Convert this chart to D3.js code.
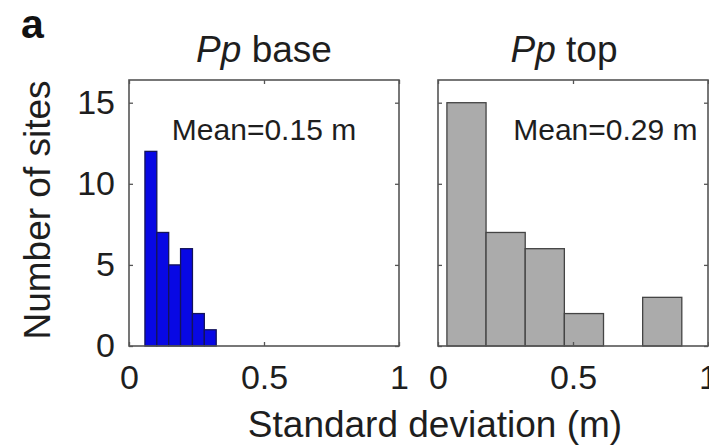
<!DOCTYPE html>
<html>
<head>
<meta charset="utf-8">
<script src="https://cdn.jsdelivr.net/npm/d3@7"></script>
<style>
  body { margin: 0; background: #fff; }
  svg { display: block; font-family: "Liberation Sans", Arial, sans-serif; }
</style>
</head>
<body>
<div id="chart"></div>
<script>
// histogram bin edges (m) and counts
const baseEdges = [0.059, 0.103, 0.147, 0.191, 0.235, 0.279, 0.323];
const baseCounts = [12, 7, 5, 6, 2, 1];
const topEdges = [0.033, 0.178, 0.323, 0.468, 0.613, 0.758, 0.903];
const topCounts = [15, 7, 6, 2, 0, 3];
const xTicks = [0, 0.5, 1];
const xTickLabels = ["0", "0.5", "1"];
const yTicks = [0, 5, 10, 15];
const titles = ["base", "top"];
const means = ["Mean=0.15 m", "Mean=0.29 m"];

const width = 709, height = 447;
const svg = d3.select("#chart").append("svg")
  .attr("width", width)
  .attr("height", height);

const plotTop = 80, plotBottom = 346;
const y = d3.scaleLinear().domain([0, 16.4]).range([plotBottom, plotTop]);

const panels = [
  { left: 129, edges: baseEdges, counts: baseCounts, fill: "#0808e4", stroke: "#14145a",
    title: titles[0], titleX: 264, mean: means[0], meanX: 0.5, yLabels: true },
  { left: 438, edges: topEdges, counts: topCounts, fill: "#ababab", stroke: "#444",
    title: titles[1], titleX: 564, mean: means[1], meanX: 0.62, yLabels: false }
];

const boxColor = "#555";
const textColor = "#1e1e1e";

panels.forEach((p) => {
  const x = d3.scaleLinear().domain([0, 1]).range([p.left, p.left + 270]);
  const g = svg.append("g");

  const bins = p.counts.map((c, i) => ({ x0: p.edges[i], x1: p.edges[i + 1], n: c }))
    .filter((d) => d.n > 0);

  g.append("g")
    .selectAll("rect")
    .data(bins)
    .join("rect")
    .attr("x", (d) => x(d.x0))
    .attr("y", (d) => y(d.n))
    .attr("width", (d) => x(d.x1) - x(d.x0))
    .attr("height", (d) => y(0) - y(d.n))
    .attr("fill", p.fill)
    .attr("stroke", p.stroke)
    .attr("stroke-width", 1.3);

  // bottom axis with labels
  const xb = g.append("g")
    .attr("transform", `translate(0,${plotBottom})`)
    .call(d3.axisBottom(x).tickValues(xTicks).tickFormat((d, i) => xTickLabels[i])
      .tickSizeInner(-4).tickSizeOuter(0).tickPadding(19));
  // top axis, ticks only
  const xt = g.append("g")
    .attr("transform", `translate(0,${plotTop})`)
    .call(d3.axisTop(x).tickValues(xTicks).tickFormat("")
      .tickSizeInner(-4).tickSizeOuter(0));
  // left axis
  const yl = g.append("g")
    .attr("transform", `translate(${p.left},0)`)
    .call(d3.axisLeft(y).tickValues(yTicks).tickFormat(p.yLabels ? d3.format("d") : "")
      .tickSizeInner(-4).tickSizeOuter(0).tickPadding(14));
  // right axis
  const yr = g.append("g")
    .attr("transform", `translate(${p.left + 270},0)`)
    .call(d3.axisRight(y).tickValues(yTicks).tickFormat("")
      .tickSizeInner(-4).tickSizeOuter(0));

  [xb, xt, yl, yr].forEach((a) => {
    a.select(".domain").remove();
    a.selectAll(".tick line").attr("stroke", boxColor).attr("stroke-width", 1.3);
    a.selectAll(".tick text")
      .attr("fill", textColor)
      .style("font-size", "34px")
      .style("font-family", "'Liberation Sans', Arial, sans-serif");
  });

  g.append("rect")
    .attr("x", x(0))
    .attr("y", plotTop)
    .attr("width", x(1) - x(0))
    .attr("height", plotBottom - plotTop)
    .attr("fill", "none")
    .attr("stroke", boxColor)
    .attr("stroke-width", 1.6);

  // mean annotation
  g.append("text")
    .attr("x", x(p.meanX))
    .attr("y", y(12.7))
    .attr("text-anchor", "middle")
    .attr("fill", textColor)
    .style("font-size", "30px")
    .text(p.mean);

  // title
  const t = g.append("text")
    .attr("x", p.titleX)
    .attr("y", 62)
    .attr("text-anchor", "middle")
    .attr("fill", textColor)
    .style("font-size", "37px");
  t.append("tspan").style("font-style", "italic").text("Pp");
  t.append("tspan").text(" " + p.title);
});

// axis titles
svg.append("text")
  .attr("transform", "translate(50,210) rotate(-90)")
  .attr("text-anchor", "middle")
  .attr("fill", textColor)
  .style("font-size", "37px")
  .text("Number of sites");

svg.append("text")
  .attr("x", 435)
  .attr("y", 437)
  .attr("text-anchor", "middle")
  .attr("fill", textColor)
  .style("font-size", "37px")
  .text("Standard deviation (m)");

svg.append("text")
  .attr("x", 21)
  .attr("y", 38)
  .attr("fill", "#111")
  .style("font-size", "41px")
  .style("font-weight", "bold")
  .text("a");
</script>
</body>
</html>
